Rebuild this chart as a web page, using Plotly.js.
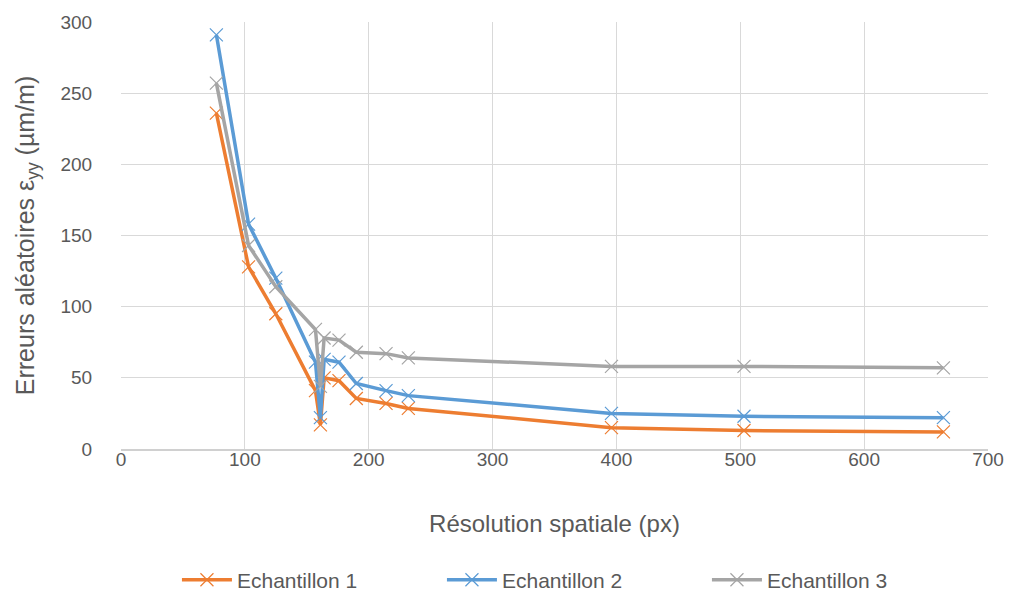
<!DOCTYPE html>
<html>
<head>
<meta charset="utf-8">
<script src="https://cdn.plot.ly/plotly-3.0.1.min.js"></script>
<style>html,body{margin:0;padding:0;background:#fff;}#chart{width:1016px;height:594px;}</style>
</head>
<body>
<div id="chart"></div>
<script>
const resolution = [77, 103, 125, 157, 161, 164, 176, 190, 214, 232, 396, 503, 664];
const echantillon1 = [236, 128, 95, 41, 17, 50, 48, 35.5, 32, 28.5, 15, 13, 12];
const echantillon2 = [291, 158, 120, 61, 22, 63, 61, 46, 41, 37.5, 25, 23, 22];
const echantillon3 = [257, 143, 114, 84, 44, 78, 76.5, 68, 67, 64, 58, 58, 57];
const seriesNames = ["Echantillon 1", "Echantillon 2", "Echantillon 3"];
const colors = ["#ED7D31", "#5B9BD5", "#A5A5A5"];

const font = "Liberation Sans Narrow, Liberation Sans, Arial, sans-serif";
const data = [echantillon1, echantillon2, echantillon3].map((ys, i) => ({
  x: resolution, y: ys, type: 'scatter', mode: 'lines+markers', name: seriesNames[i],
  line: {color: colors[i], width: 3.5},
  marker: {symbol: 'x-thin', size: 13, line: {color: colors[i], width: 1.2}, color: colors[i]}
}));

const layout = {
  width: 1016, height: 594,
  margin: {l: 121, r: 28, t: 22, b: 145, autoexpand: false},
  paper_bgcolor: '#fff', plot_bgcolor: '#fff',
  font: {family: font, color: '#595959', size: 19},
  showlegend: true,
  legend: {orientation: 'h', x: 0.523, xanchor: 'center', y: -0.307, yanchor: 'middle',
           font: {size: 21, color: '#595959'}, itemwidth: 50, entrywidth: 200, entrywidthmode: 'pixels'},
  xaxis: {
    range: [0, 700], dtick: 100, tick0: 0,
    showgrid: true, gridcolor: '#d9d9d9', gridwidth: 1,
    zeroline: false, showline: true, linecolor: '#d0d0d0', linewidth: 1.5,
    ticks: '', ticklabelstandoff: -7,
    tickfont: {size: 19, color: '#595959'},
    title: {text: 'Résolution spatiale (px)', font: {size: 24, color: '#595959'}, standoff: 46}
  },
  yaxis: {
    range: [0, 300], dtick: 50, tick0: 0,
    showgrid: true, gridcolor: '#d9d9d9', gridwidth: 1,
    zeroline: false, showline: false,
    ticks: 'outside', ticklen: 24, tickcolor: 'rgba(0,0,0,0)',
    tickfont: {size: 19, color: '#595959'},
    title: {text: 'Erreurs aléatoires ε<sub>yy</sub> (µm/m)', font: {size: 25, color: '#595959'}, standoff: 18}
  }
};
Plotly.newPlot('chart', data, layout, {displayModeBar: false, staticPlot: true});
</script>
</body>
</html>
